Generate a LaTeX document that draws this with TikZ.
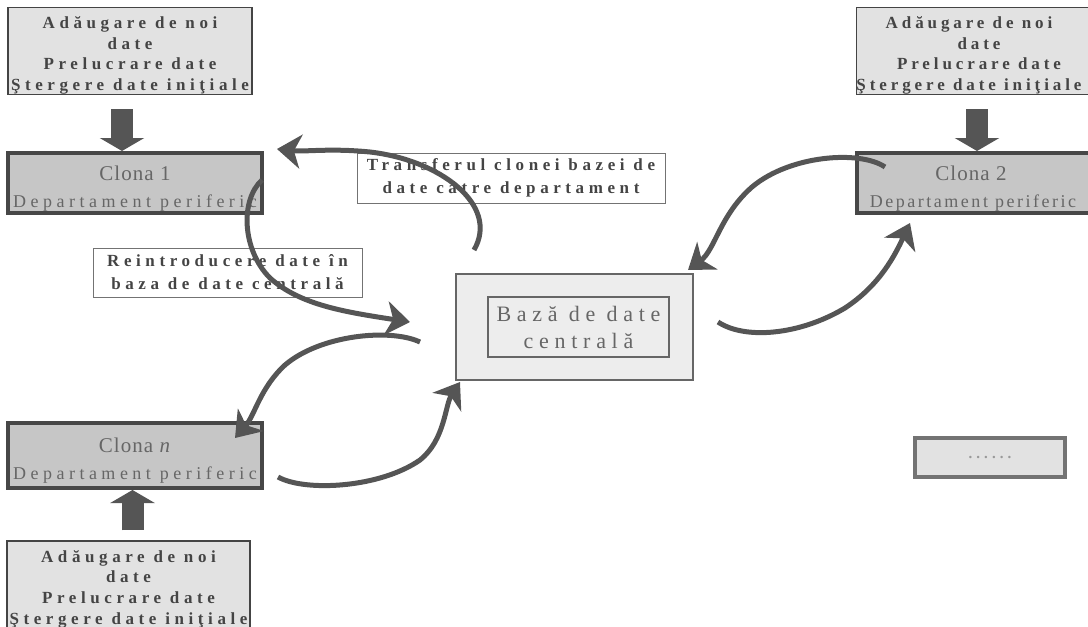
\documentclass[tikz,border=0pt]{standalone}
\usepackage{fontspec}
\setmainfont{Liberation Serif}
\newfontfamily\lblfont[LetterSpace=27]{Liberation Serif}
\newfontfamily\lblnarrow[LetterSpace=23]{Liberation Serif}
\newfontfamily\clonefont[LetterSpace=5]{Liberation Serif}
\newfontfamily\deptfont[LetterSpace=25]{Liberation Serif}
\newfontfamily\deptnarrow[LetterSpace=14]{Liberation Serif}
\newfontfamily\dbfont[LetterSpace=26]{Liberation Serif}
\usetikzlibrary{arrows.meta}
\definecolor{ink}{HTML}{444444}
\definecolor{arrowgray}{HTML}{555555}
\definecolor{taskfill}{HTML}{E2E2E2}
\definecolor{clonefill}{HTML}{C6C6C6}
\definecolor{dbfill}{HTML}{EDEDED}
\definecolor{clonetext}{HTML}{666666}
\tikzset{
  taskbox/.style={draw=ink, line width=1.5pt, fill=taskfill, minimum width=244pt,
    minimum height=82pt, inner sep=0pt, align=center, text=ink,
    font=\lblfont\bfseries\fontsize{17}{20.7}\selectfont},
  clonebox/.style={draw=black!72, line width=4pt, fill=clonefill, minimum width=254pt,
    minimum height=60pt, inner sep=0pt, align=center, text=clonetext,
    font=\fontsize{18}{27}\selectfont},
  notebox/.style={draw=black!55, line width=1pt, fill=white, inner sep=0pt, align=center,
    text=ink, font=\lblfont\bfseries\fontsize{17}{23}\selectfont},
  dbbox/.style={draw=black!60, line width=1.3pt, fill=dbfill, inner sep=0pt},
  fatarrow/.style={draw=arrowgray, line width=22pt, -{Triangle[length=13pt,width=44pt]}},
  curvy/.style={draw=arrowgray, line width=5pt, -{Stealth[length=24pt,width=34pt,inset=7pt]}},
}
% rows of a task box; the tall strut lowers the first row a little
\newcommand{\taskrows}{\rule{0pt}{21pt}Adăugare de noi\\date\\Prelucrare date\\Ştergere date iniţiale}
\newcommand{\clonelabel}[1]{\rule{0pt}{25pt}{\clonefont\fontsize{21}{27}\selectfont #1}\\{\deptfont\fontsize{18}{27}\selectfont Departament periferic}}
\begin{document}
\begin{tikzpicture}[x=1pt,y=-1pt]
\useasboundingbox (0,0) rectangle (1088,627);
\clip (0,0) rectangle (1088,627);

% task boxes
\node[taskbox] (tl) at (130,51) {\taskrows};
\node[taskbox, font=\lblnarrow\bfseries\fontsize{17}{20.7}\selectfont] (tr) at (979,51)
  {\rule{0pt}{21pt}Adăugare de noi\hspace*{20pt}\\date\hspace*{20pt}\\Prelucrare date\hspace*{20pt}\\Ştergere date iniţiale\hspace*{20pt}};
\node[taskbox, minimum width=243pt, minimum height=83pt] (bn) at (128.5,584.5) {\taskrows};

% clone departments
\node[clonebox] (c1) at (135,183) {\clonelabel{Clona 1}};
\node[clonebox] (c2) at (984,183) {\rule{0pt}{25pt}{\clonefont\fontsize{21}{27}\selectfont Clona 2}\hspace*{26pt}\\
  {\deptnarrow\fontsize{18}{27}\selectfont Departament periferic}\hspace*{22pt}};
\node[clonebox, minimum height=65pt] (cn) at (135,455.5) {\clonelabel{Clona \textit{n}}};

% central database
\node[dbbox, minimum width=237pt, minimum height=106pt] (db) at (574.5,327) {};
\node[dbbox, fill=none, minimum width=181pt, minimum height=60pt, align=center, text=clonetext,
  font=\dbfont\fontsize{22}{27}\selectfont] (dbin) at (578.5,327) {Bază de date\\centrală};

% placeholder box
\node[draw=black!55, line width=4pt, fill=taskfill, minimum width=150pt, minimum height=39pt,
  inner sep=0pt, text=black!40, font=\lblfont\bfseries\fontsize{15}{15}\selectfont] (etc) at (990,457.5) {......};

% flow labels
\node[notebox, minimum width=308pt, minimum height=50pt] (tx) at (511,178)
  {Transferul clonei bazei de\\date către departament};
\node[notebox, minimum width=269pt, minimum height=49pt] (rx) at (227.5,272.5)
  {Reintroducere date în\\baza de date centrală};

% thick arrows from the task boxes
\draw[fatarrow] ([xshift=-8pt,yshift=-14pt]tl.south) -- ([xshift=-8pt]tl.south |- c1.north);
\draw[fatarrow] ([xshift=-2pt,yshift=-14pt]tr.south) -- ([xshift=-2pt]tr.south |- c2.north);
\draw[fatarrow] ([xshift=4pt,yshift=10pt]bn.north) -- ([xshift=4pt]bn.north |- cn.south);

% curved exchange arrows
\coordinate (a1s) at (474,250);  \coordinate (a1e) at (277,149);
\coordinate (a2s) at (262,180);  \coordinate (a2e) at (410,322);
\coordinate (a3s) at (885,167);  \coordinate (a3e) at (688,270);
\coordinate (a4s) at (718,322);  \coordinate (a4e) at (910,223);
\coordinate (a5s) at (420,342);  \coordinate (a5e) at (235,438);
\coordinate (a6s) at (278,477);  \coordinate (a6e) at (460,382);

\draw[curvy] (a1s) .. controls (500,205) and (440,160) .. (370,152) .. controls (330,148) and (305,152) .. (a1e);
\draw[curvy] (a2s) .. controls (240,200) and (242,250) .. (270,278) .. controls (300,305) and (345,312) .. (a2e);
\draw[curvy] (a3s) .. controls (860,150) and (790,155) .. (752,187) .. controls (720,215) and (715,250) .. (a3e);
\draw[curvy] (a4s) .. controls (745,340) and (800,335) .. (845,308) .. controls (880,285) and (895,255) .. (a4e);
\draw[curvy] (a5s) .. controls (390,328) and (320,335) .. (285,365) .. controls (260,388) and (255,415) .. (a5e);
\draw[curvy] (a6s) .. controls (305,492) and (380,488) .. (420,460) .. controls (445,440) and (445,405) .. (a6e);
\end{tikzpicture}
\end{document}
